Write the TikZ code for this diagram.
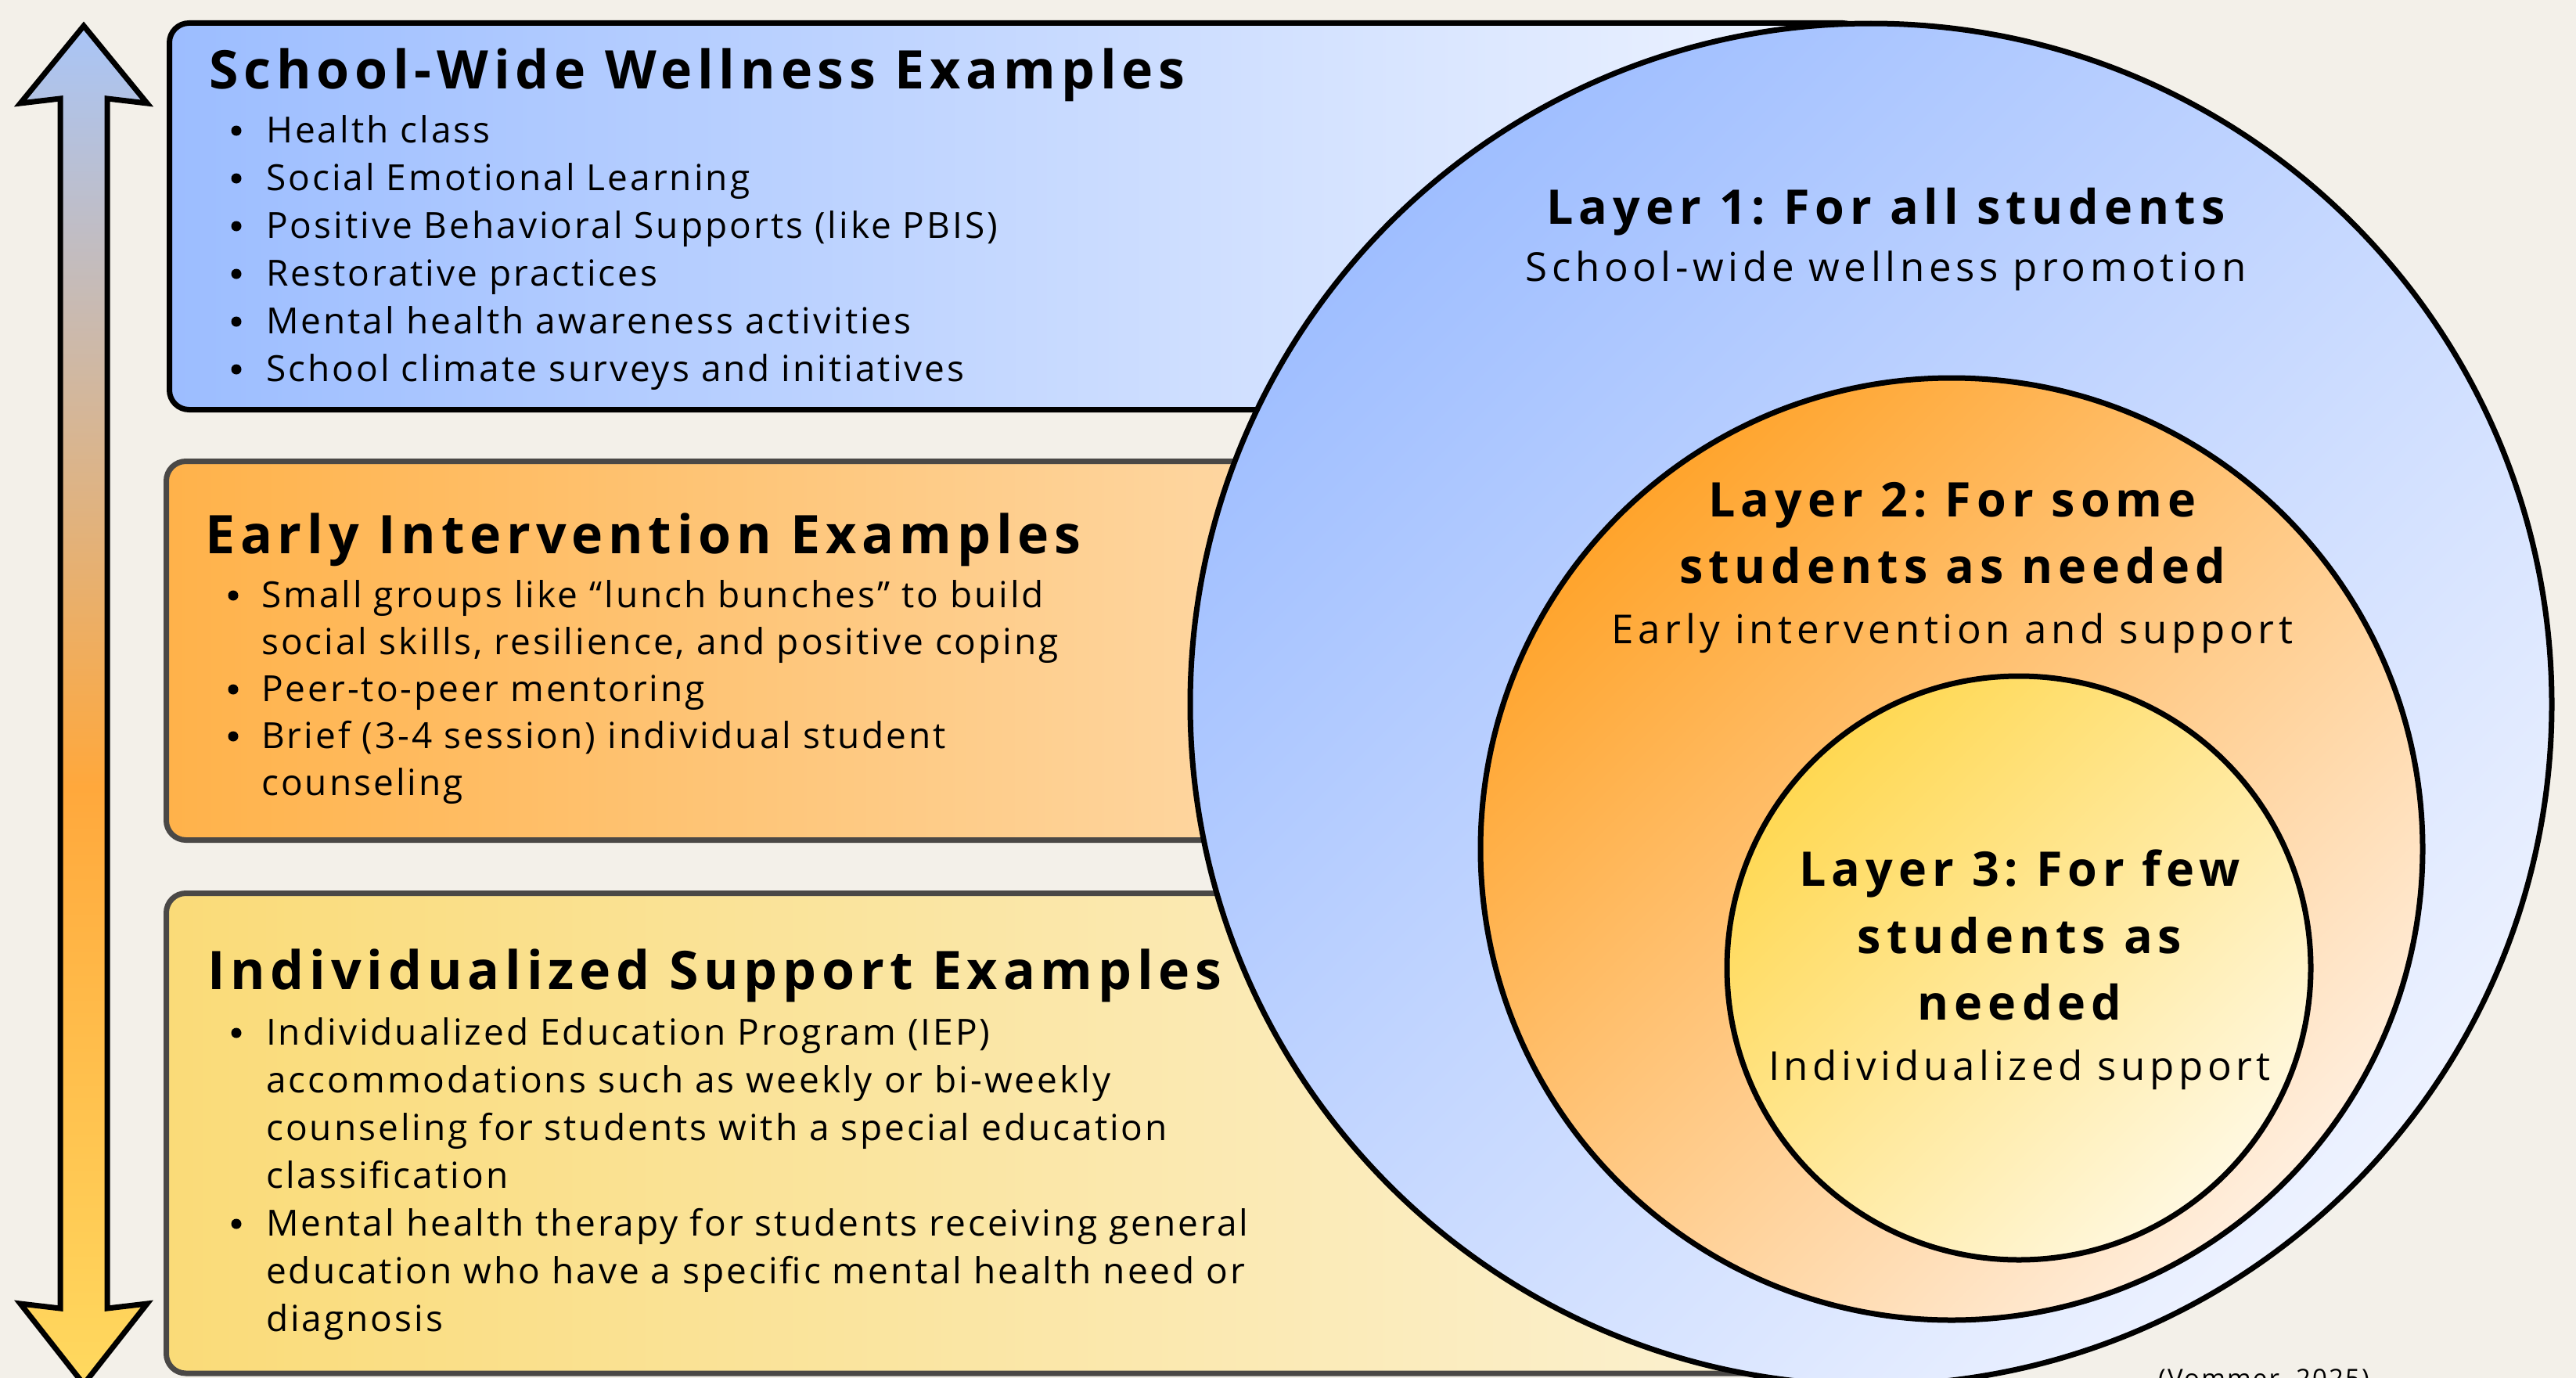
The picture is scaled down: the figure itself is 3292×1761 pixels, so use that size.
\documentclass[tikz,border=0pt]{standalone}
\usepackage{fontspec}
\setmainfont{Open Sans}
\newfontfamily\bodyf{Open Sans}[LetterSpace=6.5]
\newfontfamily\subf{Open Sans}[LetterSpace=11]
\newfontfamily\headf{Open Sans}[LetterSpace=10]
\newfontfamily\layf{Open Sans}[LetterSpace=11.5]
\definecolor{bgcream}{HTML}{F3F0E9}
\definecolor{bluea}{HTML}{9CBDFF}
\definecolor{blueb}{HTML}{EFF4FF}
\definecolor{orgA}{HTML}{FFB24A}
\definecolor{orgB}{HTML}{FDEBD3}
\definecolor{yelA}{HTML}{FADB78}
\definecolor{yelB}{HTML}{FBF2D6}
\definecolor{cblA}{HTML}{9FBEFF}
\definecolor{cblB}{HTML}{EDF2FF}
\definecolor{corA}{HTML}{FFA42C}
\definecolor{corB}{HTML}{FFEEDD}
\definecolor{cyeA}{HTML}{FFD852}
\definecolor{cyeB}{HTML}{FFF8E0}
\definecolor{boxgray}{HTML}{4A4846}
\definecolor{arrblue}{HTML}{A9C5F7}
\definecolor{arrorange}{HTML}{FFA83C}
\definecolor{arryellow}{HTML}{FFD95F}
\pgfdeclareverticalshading{arrowsh}{100bp}{color(0bp)=(arryellow); color(25bp)=(arryellow); color(47bp)=(arrorange); color(75bp)=(arrblue); color(100bp)=(arrblue)}
\begin{document}
\frenchspacing
\begin{tikzpicture}[x=1pt,y=-1pt,
  exbox/.style={line width=7pt, rounded corners=25pt},
  layer/.style={line width=7pt, draw=black},
  bodytxt/.style={anchor=base west, inner sep=0pt, font=\bodyf\fontsize{46}{60}\selectfont},
  bul/.style={circle, fill=black, inner sep=0pt, minimum size=13pt},
  headtxt/.style={anchor=base west, inner sep=0pt, font=\headf\bfseries\fontsize{68}{80}\selectfont},
  laytxt/.style={anchor=base, inner sep=0pt, font=\layf\bfseries\fontsize{61}{85}\selectfont},
  subtxt/.style={anchor=base, inner sep=0pt, font=\subf\fontsize{51}{60}\selectfont},
  citetxt/.style={anchor=base west, inner sep=0pt, font=\bodyf\fontsize{33}{40}\selectfont}]
\useasboundingbox (0,0) rectangle (3292,1761);
\clip (0,0) rectangle (3292,1761);
\fill[bgcream] (0,0) rectangle (3292,1761);

% double arrow
\draw[line width=7pt, line join=miter, shading=arrowsh]
  (107,33) -- (188,132) -- (137,126) -- (137,1672) -- (188,1666) -- (107,1769)
  -- (26,1666) -- (77,1672) -- (77,126) -- (26,132) -- cycle;

% example boxes
\draw[exbox, draw=black, left color=bluea, right color=blueb] (216.5,29.5) rectangle (2380,523.5);
\draw[exbox, draw=boxgray, left color=orgA, right color=orgB] (212.5,589.5) rectangle (2380,1073.5);
\draw[exbox, draw=boxgray, left color=yelA, right color=yelB] (212.5,1141.5) rectangle (2380,1755);

% box 1 text
\node[headtxt] (t1) at (267,113) {School-Wide Wellness Examples};
\node[bul] (b1a) at (302,167) {};
\node[bodytxt] (l1a) at (340,182) {Health class};
\node[bul] (b1b) at (302,228) {};
\node[bodytxt] (l1b) at (340,243) {Social Emotional Learning};
\node[bul] (b1c) at (302,289) {};
\node[bodytxt] (l1c) at (340,304) {Positive Behavioral Supports (like PBIS)};
\node[bul] (b1d) at (302,350) {};
\node[bodytxt] (l1d) at (340,365) {Restorative practices};
\node[bul] (b1e) at (302,411) {};
\node[bodytxt] (l1e) at (340,426) {Mental health awareness activities};
\node[bul] (b1f) at (302,472) {};
\node[bodytxt] (l1f) at (340,487) {School climate surveys and initiatives};

% box 2 text
\node[headtxt] (t2) at (262,707) {Early Intervention Examples};
\node[bul] (b2a) at (298,761) {};
\node[bodytxt] (l2a) at (334,776) {Small groups like “lunch bunches” to build};
\node[bodytxt] (l2b) at (334,836) {social skills, resilience, and positive coping};
\node[bul] (b2c) at (298,881) {};
\node[bodytxt] (l2c) at (334,896) {Peer-to-peer mentoring};
\node[bul] (b2d) at (298,941) {};
\node[bodytxt] (l2d) at (334,956) {Brief (3-4 session) individual student};
\node[bodytxt] (l2e) at (334,1016) {counseling};

% box 3 text
\node[headtxt] (t3) at (265,1264) {Individualized Support Examples};
\node[bul] (b3a) at (302,1320) {};
\node[bodytxt] (l3a) at (340,1335) {Individualized Education Program (IEP)};
\node[bodytxt] (l3b) at (340,1396) {accommodations such as weekly or bi-weekly};
\node[bodytxt] (l3c) at (340,1457) {counseling for students with a special education};
\node[bodytxt] (l3d) at (340,1518) {classification};
\node[bul] (b3e) at (302,1564) {};
\node[bodytxt] (l3e) at (340,1579) {Mental health therapy for students receiving general};
\node[bodytxt] (l3f) at (340,1640) {education who have a specific mental health need or};
\node[bodytxt] (l3g) at (340,1701) {diagnosis};

% layer circles
\draw[layer, top color=cblA, bottom color=cblB, shading angle=45] (2391,900) circle[radius=870];
\draw[layer, top color=corA, bottom color=corB, shading angle=45] (2494,1085) circle[radius=602];
\draw[layer, top color=cyeA, bottom color=cyeB, shading angle=45] (2580,1237) circle[radius=373];

% layer texts
\node[laytxt] (c1a) at (2410,286) {Layer 1: For all students};
\node[subtxt] (c1b) at (2410,359) {School-wide wellness promotion};
\node[laytxt] (c2a) at (2495,660) {Layer 2: For some};
\node[laytxt] (c2b) at (2495,745) {students as needed};
\node[subtxt] (c2c) at (2495,822) {Early intervention and support};
\node[laytxt] (c3a) at (2581,1132) {Layer 3: For few};
\node[laytxt] (c3b) at (2581,1218) {students as};
\node[laytxt] (c3c) at (2581,1303) {needed};
\node[subtxt] (c3d) at (2581,1380) {Individualized support};

\node[citetxt] (cite) at (2758,1773) {(Vommer, 2025)};
\end{tikzpicture}
\end{document}
